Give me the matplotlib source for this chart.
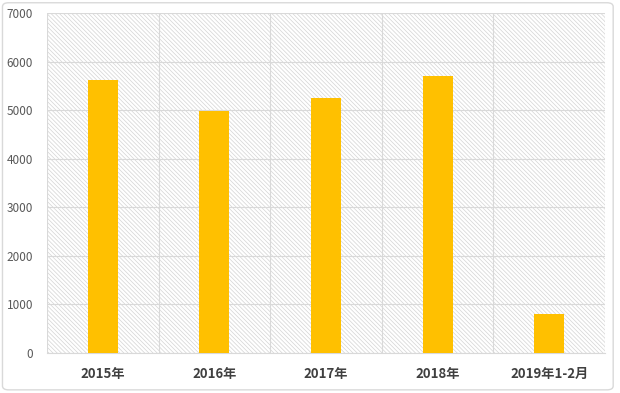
import matplotlib
matplotlib.use("Agg")
import matplotlib.pyplot as plt
from matplotlib.patches import Rectangle, FancyBboxPatch

plt.rcParams['font.family'] = ['Noto Sans CJK SC', 'DejaVu Sans']
plt.rcParams['hatch.linewidth'] = 0.5
plt.rcParams['hatch.color'] = '#d4d4d4'

categories = ['2015年', '2016年', '2017年', '2018年', '2019年1-2月']
values = [5630, 4980, 5250, 5710, 800]
yticks = [0, 1000, 2000, 3000, 4000, 5000, 6000, 7000]

fig = plt.figure(figsize=(6.2, 3.93), dpi=100)
# outer chart border, kept behind the axes
fig.patches.append(FancyBboxPatch((0.004, 0.008), 0.985, 0.985, boxstyle='round,pad=0,rounding_size=0.01',
                                  transform=fig.transFigure, facecolor='white',
                                  edgecolor='#d9d9d9', linewidth=1.0, zorder=-5))
ax = fig.add_axes([0.0758, 0.1018, 0.9, 0.865])
ax.set_facecolor('none')

# hatched plot area
ax.add_patch(Rectangle((0, 0), 1, 1, transform=ax.transAxes, facecolor='white',
                       edgecolor='#d4d4d4', hatch='\\' * 8, linewidth=0, zorder=0))

x = list(range(len(categories)))
ax.bar(x, values, width=0.27, color='#ffc000', zorder=3)

ax.set_xlim(-0.5, len(categories) - 0.5)
ax.set_ylim(0, 7000)
ax.set_yticks(yticks)
ax.set_yticklabels([str(v) for v in yticks], color='#595959', fontsize=8.5)
ax.set_xticks(x)
ax.set_xticklabels(categories, fontweight='bold', color='#404040', fontsize=9.5)
ax.set_xticks([i + 0.5 for i in range(-1, len(categories))], minor=True)
ax.grid(True, axis='y', color='#d9d9d9', linewidth=0.8, zorder=1)
ax.grid(True, axis='x', which='minor', color='#d9d9d9', linewidth=0.8, zorder=1)
ax.set_axisbelow(True)
ax.tick_params(axis='both', which='both', length=0)
ax.tick_params(axis='x', pad=10)
ax.tick_params(axis='y', pad=10)
for side in ['top', 'right', 'left']:
    ax.spines[side].set_visible(False)
ax.spines['bottom'].set_color('#d9d9d9')

fig.savefig('out.png', dpi=100)
